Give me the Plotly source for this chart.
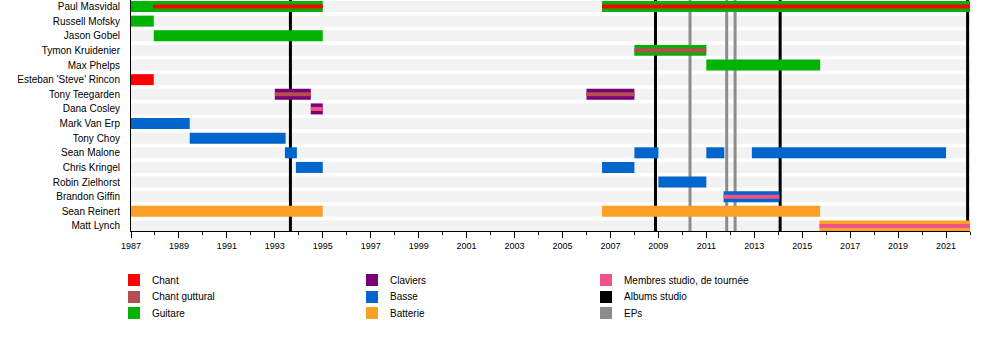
import plotly.graph_objects as go

# ---- data ----
members = [
    "Paul Masvidal", "Russell Mofsky", "Jason Gobel", "Tymon Kruidenier",
    "Max Phelps", "Esteban 'Steve' Rincon", "Tony Teegarden", "Dana Cosley",
    "Mark Van Erp", "Tony Choy", "Sean Malone", "Chris Kringel",
    "Robin Zielhorst", "Brandon Giffin", "Sean Reinert", "Matt Lynch",
]

# main bars: (member, start, end)
guitare = [
    ("Paul Masvidal", 1987.0, 1995.0), ("Paul Masvidal", 2006.65, 2022.0),
    ("Russell Mofsky", 1987.0, 1987.95), ("Jason Gobel", 1987.95, 1995.0),
    ("Tymon Kruidenier", 2008.0, 2011.0), ("Max Phelps", 2011.0, 2015.75),
]
chant = [("Esteban 'Steve' Rincon", 1987.0, 1987.95)]
claviers = [
    ("Tony Teegarden", 1993.0, 1994.5), ("Tony Teegarden", 2006.0, 2008.0),
    ("Dana Cosley", 1994.5, 1995.0),
]
basse = [
    ("Mark Van Erp", 1987.0, 1989.45), ("Tony Choy", 1989.45, 1993.45),
    ("Sean Malone", 1993.42, 1993.92), ("Sean Malone", 2008.0, 2009.0),
    ("Sean Malone", 2011.0, 2011.75), ("Sean Malone", 2012.9, 2021.0),
    ("Chris Kringel", 1993.88, 1995.0), ("Chris Kringel", 2006.65, 2008.0),
    ("Robin Zielhorst", 2009.0, 2011.0), ("Brandon Giffin", 2011.72, 2014.05),
]
batterie = [
    ("Sean Reinert", 1987.0, 1995.0), ("Sean Reinert", 2006.65, 2015.75),
    ("Matt Lynch", 2015.72, 2022.0),
]

# inner (secondary role) bars
chant_inner = [("Paul Masvidal", 1987.92, 1995.0), ("Paul Masvidal", 2006.65, 2022.0)]
guttural_inner = [
    ("Tymon Kruidenier", 2008.0, 2011.0),
    ("Tony Teegarden", 1993.0, 1994.5), ("Tony Teegarden", 2006.0, 2008.0),
]
studio_inner = [
    ("Dana Cosley", 1994.5, 1995.0), ("Brandon Giffin", 2011.72, 2014.05),
    ("Matt Lynch", 2015.72, 2022.0),
]

albums_studio = [1993.65, 2008.88, 2014.08, 2021.9]
eps = [2010.32, 2011.85, 2012.2]

year_min, year_max = 1987, 2022
tick_years = list(range(1987, 2022, 2))

legend_labels = [
    ["Chant", "Chant guttural", "Guitare"],
    ["Claviers", "Basse", "Batterie"],
    ["Membres studio, de tournée", "Albums studio", "EPs"],
]

colors = {
    "Chant": "#ff0000",
    "Chant guttural": "#b34f4f",
    "Guitare": "#00b300",
    "Claviers": "#7a007a",
    "Basse": "#0066cc",
    "Batterie": "#faa027",
    "Membres studio, de tournée": "#f2528a",
    "Albums studio": "#000000",
    "EPs": "#8c8c8c",
}
stripe_color = "#f2f2f2"

# ---- layout constants (pixels) ----
W, H = 1000, 350
L, R, T, B = 131, 30, 0, 119
PW, PH = W - L - R, H - T - B
row_top, row_bot = -0.444, 15.345
outer_w, inner_w = 0.75, 0.28
FONT = "Liberation Sans, Arial, sans-serif"

idx = {m: i for i, m in enumerate(members)}

fig = go.Figure()


def add_bars(data, color, width):
    fig.add_trace(go.Bar(
        orientation="h",
        y=[idx[m] for m, s, e in data],
        base=[s for m, s, e in data],
        x=[e - s for m, s, e in data],
        width=width,
        marker=dict(color=color, line=dict(width=0)),
        showlegend=False,
        hoverinfo="skip",
    ))


add_bars(guitare, colors["Guitare"], outer_w)
add_bars(chant, colors["Chant"], outer_w)
add_bars(claviers, colors["Claviers"], outer_w)
add_bars(basse, colors["Basse"], outer_w)
add_bars(batterie, colors["Batterie"], outer_w)
add_bars(chant_inner, colors["Chant"], inner_w)
add_bars(guttural_inner, colors["Chant guttural"], inner_w)
add_bars(studio_inner, colors["Membres studio, de tournée"], inner_w)

shapes = []
# background stripes per row
for i, _ in enumerate(members):
    shapes.append(dict(type="rect", xref="x", yref="y", x0=year_min, x1=year_max,
                       y0=i - outer_w / 2, y1=i + outer_w / 2,
                       fillcolor=stripe_color, line=dict(width=0), layer="below"))
# release lines (drawn above the stripes, below the bars)
for yv in eps:
    shapes.append(dict(type="line", xref="x", yref="y", x0=yv, x1=yv, y0=row_bot, y1=row_top,
                       line=dict(color=colors["EPs"], width=3), layer="below"))
for yv in albums_studio:
    shapes.append(dict(type="line", xref="x", yref="y", x0=yv, x1=yv, y0=row_bot, y1=row_top,
                       line=dict(color=colors["Albums studio"], width=3), layer="below"))

# custom legend (3 columns)
col_x = [128, 366, 600]
row_y = [280, 297, 313]
sw_w, sw_h = 12, 12
annotations = []
for c, labels in enumerate(legend_labels):
    for r, lab in enumerate(labels):
        px, py = col_x[c], row_y[r]
        shapes.append(dict(type="rect", xref="paper", yref="paper",
                           x0=(px - L) / PW, x1=(px + sw_w - L) / PW,
                           y0=(PH - (py + sw_h / 2)) / PH, y1=(PH - (py - sw_h / 2)) / PH,
                           fillcolor=colors[lab], line=dict(width=0)))
        annotations.append(dict(xref="paper", yref="paper",
                                x=(px + 22 - L) / PW, y=(PH - py) / PH,
                                text=lab, showarrow=False, xanchor="left", yanchor="middle",
                                font=dict(family=FONT, size=10, color="#000000")))

fig.update_layout(
    width=W, height=H,
    margin=dict(l=L, r=R, t=T, b=B, pad=0),
    paper_bgcolor="white", plot_bgcolor="white",
    barmode="overlay",
    showlegend=False,
    shapes=shapes,
    annotations=annotations,
    font=dict(family=FONT, size=10, color="#000000"),
    xaxis=dict(
        range=[year_min, year_max], tickvals=tick_years, ticktext=[str(y) for y in tick_years],
        ticks="outside", ticklen=6, tickwidth=1, tickcolor="black",
        showline=True, linecolor="black", linewidth=1,
        showgrid=False, zeroline=False,
        tickfont=dict(family=FONT, size=9, color="#000000"),
        minor=dict(ticks="outside", ticklen=3, tickwidth=1, tickcolor="black",
                   dtick=1, tick0=1987, showgrid=False),
    ),
    yaxis=dict(
        range=[row_bot, row_top], tickvals=list(range(len(members))), ticktext=members,
        ticks="", showline=True, linecolor="black", linewidth=1,
        showgrid=False, zeroline=False, ticklabelstandoff=8,
        tickfont=dict(family=FONT, size=10, color="#000000"),
    ),
)

fig.write_html("out.html")
